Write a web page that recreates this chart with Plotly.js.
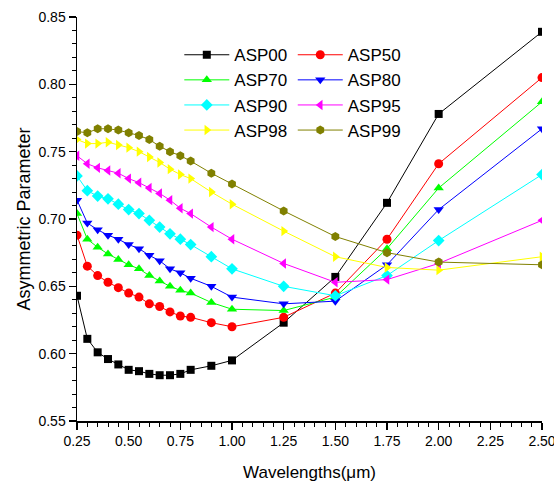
<!DOCTYPE html>
<html>
<head>
<meta charset="utf-8">
<script src="https://cdn.plot.ly/plotly-3.0.1.min.js"></script>
<style>html,body{margin:0;padding:0;background:#fff;}#chart{width:554px;height:483px;}</style>
</head>
<body>
<div id="chart"></div>
<script>
const wavelengths = [0.25, 0.30, 0.35, 0.40, 0.45, 0.50, 0.55, 0.60, 0.65, 0.70, 0.75, 0.80, 0.90, 1.00, 1.25, 1.50, 1.75, 2.00, 2.50];
const asp00 = [0.643, 0.611, 0.601, 0.596, 0.592, 0.588, 0.587, 0.585, 0.584, 0.584, 0.585, 0.588, 0.591, 0.595, 0.623, 0.657, 0.712, 0.778, 0.839];
const asp50 = [0.688, 0.665, 0.658, 0.653, 0.649, 0.645, 0.642, 0.637, 0.635, 0.631, 0.628, 0.627, 0.623, 0.620, 0.627, 0.645, 0.685, 0.741, 0.805];
const asp70 = [0.704, 0.685, 0.679, 0.674, 0.670, 0.666, 0.663, 0.658, 0.654, 0.650, 0.647, 0.645, 0.638, 0.633, 0.632, 0.642, 0.678, 0.723, 0.787];
const asp80 = [0.714, 0.697, 0.692, 0.688, 0.685, 0.681, 0.678, 0.673, 0.669, 0.663, 0.660, 0.656, 0.650, 0.642, 0.637, 0.639, 0.666, 0.707, 0.767];
const asp90 = [0.732, 0.721, 0.717, 0.715, 0.711, 0.707, 0.704, 0.699, 0.694, 0.689, 0.685, 0.681, 0.672, 0.663, 0.650, 0.643, 0.658, 0.684, 0.733];
const asp95 = [0.747, 0.741, 0.738, 0.736, 0.734, 0.730, 0.727, 0.723, 0.719, 0.714, 0.708, 0.704, 0.694, 0.685, 0.667, 0.653, 0.655, 0.667, 0.699];
const asp98 = [0.759, 0.756, 0.756, 0.757, 0.755, 0.753, 0.750, 0.746, 0.742, 0.737, 0.733, 0.730, 0.720, 0.711, 0.691, 0.672, 0.664, 0.662, 0.672];
const asp99 = [0.765, 0.764, 0.767, 0.767, 0.766, 0.764, 0.762, 0.759, 0.754, 0.750, 0.747, 0.743, 0.734, 0.726, 0.706, 0.687, 0.675, 0.668, 0.666];

const seriesNames = ['ASP00', 'ASP50', 'ASP70', 'ASP80', 'ASP90', 'ASP95', 'ASP98', 'ASP99'];
const seriesValues = [asp00, asp50, asp70, asp80, asp90, asp95, asp98, asp99];
const colors = ['#000000', '#ff0000', '#00ff00', '#0000ff', '#00ffff', '#ff00ff', '#ffff00', '#808000'];
const symbols = ['square', 'circle', 'triangle-up', 'triangle-down', 'diamond', 'triangle-left', 'triangle-right', 'hexagon'];
const sizes = [8, 9, 9, 9, 9, 9, 9, 9];

const traces = seriesNames.map((name, i) => ({
  x: wavelengths,
  y: seriesValues[i],
  name: name,
  type: 'scatter',
  mode: 'lines+markers',
  line: {color: colors[i], width: 1},
  marker: {color: colors[i], symbol: symbols[i], size: sizes[i], line: {width: 0}},
  legend: (i % 2 === 0) ? 'legend' : 'legend2',
  legendgroup: 'g' + i
}));

const font = 'Liberation Sans, Arial, sans-serif';
const legendCommon = {
  font: {family: font, size: 17, color: '#000'},
  bgcolor: 'rgba(0,0,0,0)',
  borderwidth: 0,
  itemwidth: 45,
  tracegroupgap: 0,
  xanchor: 'left',
  yanchor: 'top',
  y: 0.95
};

const layout = {
  width: 554,
  height: 483,
  margin: {l: 77, r: 12, t: 17, b: 62},
  paper_bgcolor: '#fff',
  plot_bgcolor: '#fff',
  font: {family: font, color: '#000'},
  showlegend: true,
  legend: Object.assign({}, legendCommon, {x: 0.22}),
  legend2: Object.assign({}, legendCommon, {x: 0.464}),
  xaxis: {
    range: [0.25, 2.5],
    dtick: 0.25,
    tick0: 0.25,
    tickformat: '.2f',
    ticklabeloverflow: 'allow',
    showline: true, linecolor: '#000', linewidth: 1.5,
    ticks: 'outside', ticklen: 7, tickwidth: 1.5, tickcolor: '#000',
    minor: {dtick: 0.05, ticks: 'outside', ticklen: 4, tickwidth: 1, tickcolor: '#000'},
    showgrid: false, zeroline: false,
    tickfont: {family: font, size: 14, color: '#000'},
    title: {text: 'Wavelengths(\u03bcm)', font: {family: font, size: 17, color: '#000'}, standoff: 18}
  },
  yaxis: {
    range: [0.55, 0.85],
    dtick: 0.05,
    tick0: 0.55,
    tickformat: '.2f',
    showline: true, linecolor: '#000', linewidth: 1.5,
    ticks: 'outside', ticklen: 7, tickwidth: 1.5, tickcolor: '#000',
    minor: {dtick: 0.01, ticks: 'outside', ticklen: 4, tickwidth: 1, tickcolor: '#000'},
    showgrid: false, zeroline: false,
    tickfont: {family: font, size: 14, color: '#000'},
    title: {text: 'Asymmetric Parameter', font: {family: font, size: 18, color: '#000'}, standoff: 3}
  }
};

Plotly.newPlot('chart', traces, layout, {staticPlot: true, displayModeBar: false});
</script>
</body>
</html>
